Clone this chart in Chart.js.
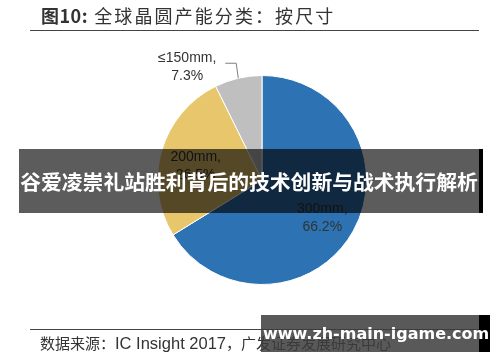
<!DOCTYPE html>
<html>
<head>
<meta charset="utf-8">
<script src="https://cdn.jsdelivr.net/npm/chart.js@4.4.1/dist/chart.umd.min.js"></script>
<style>
  html,body{margin:0;padding:0;background:#fff;}
  #wrap{position:relative;width:500px;height:362px;overflow:hidden;background:#fff;}
  #c{position:absolute;left:0;top:0;}
  .title{position:absolute;left:41px;top:2px;font-family:"Noto Sans CJK SC",sans-serif;font-size:18px;color:#333;letter-spacing:2.1px;white-space:nowrap;}
  .title b{font-weight:700;letter-spacing:0.5px;}
  .rule{position:absolute;left:30px;width:449px;height:1px;background:#444;}
  .src{position:absolute;left:40px;top:332px;font-family:"Noto Sans CJK SC",sans-serif;font-size:15px;color:#333;white-space:nowrap;}
  .src span{font-family:"Liberation Sans",Arial,sans-serif;font-size:16.5px;}
  .banner{position:absolute;left:19px;top:149px;width:460px;height:64px;background:rgba(0,0,0,0.64);}
  .banner-edge{position:absolute;left:479px;top:149px;width:4px;height:64px;background:#000;}
  .banner-text{position:absolute;left:19px;top:149px;width:460px;height:64px;line-height:64px;text-align:center;font-family:"Noto Sans CJK SC",sans-serif;font-weight:700;font-size:20.8px;color:#fff;white-space:nowrap;letter-spacing:0;}
  .wm{position:absolute;left:261px;top:315px;width:218px;height:37px;background:rgba(60,60,60,0.85);}
  .wm-edge{position:absolute;left:479px;top:315px;width:11px;height:37px;background:#000;}
  .wm-text{position:absolute;left:263px;top:315px;width:216px;height:37px;line-height:37px;text-align:center;font-family:"DejaVu Sans",sans-serif;font-weight:700;font-size:16px;color:#fff;white-space:nowrap;}
</style>
</head>
<body>
<div id="wrap">
  <canvas id="c" width="500" height="362"></canvas>
  <div class="title"><b>图10:</b> 全球晶圆产能分类：按尺寸</div>
  <div class="rule" style="top:30px"></div>
  <div class="rule" style="top:329px"></div>
  <div class="src">数据来源：<span>IC Insight 2017</span>，广发证券发展研究中心</div>
  <div class="banner"></div>
  <div class="banner-edge"></div>
  <div class="banner-text">谷爱凌崇礼站胜利背后的技术创新与战术执行解析</div>
  <div class="wm"></div>
  <div class="wm-edge"></div>
  <div class="wm-text">www.zh-main-igame.com</div>
</div>
<script>
const categories = ['300mm', '200mm', '≤150mm'];
const shares = [66.2, 26.5, 7.3];
const sliceColors = ['#2D72B3', '#E8C76C', '#BFBFBF'];

const labelPlugin = {
  id: 'sliceLabels',
  afterDatasetsDraw(chart) {
    const ctx = chart.ctx;
    const meta = chart.getDatasetMeta(0);
    ctx.save();
    ctx.font = '14px "Liberation Sans", Arial, sans-serif';
    ctx.fillStyle = '#333';
    ctx.textAlign = 'center';
    ctx.textBaseline = 'middle';
    meta.data.forEach((arc, i) => {
      const p = arc.getProps(['x','y','startAngle','endAngle','outerRadius'], true);
      const mid = (p.startAngle + p.endAngle) / 2;
      const dx = Math.cos(mid), dy = Math.sin(mid);
      const l1 = categories[i] + ',';
      const l2 = shares[i].toFixed(1) + '%';
      if (shares[i] > 15) {
        const r = p.outerRadius * 0.66;
        const cx = p.x + dx * r, cy = p.y + dy * r + 5;
        ctx.fillText(l1, cx, cy - 9);
        ctx.fillText(l2, cx, cy + 9);
      } else {
        const ex = p.x + dx * p.outerRadius, ey = p.y + dy * p.outerRadius;
        const bx = ex - 2, by = ey - 15;
        ctx.strokeStyle = '#7f7f7f';
        ctx.lineWidth = 1;
        ctx.beginPath();
        ctx.moveTo(ex, ey);
        ctx.lineTo(bx, by);
        ctx.lineTo(bx - 11, by);
        ctx.stroke();
        const tx = bx - 49;
        ctx.fillText(l1, tx, by - 5);
        ctx.fillText(l2, tx, by + 13);
      }
    });
    ctx.restore();
  }
};

new Chart(document.getElementById('c'), {
  type: 'pie',
  data: {
    labels: categories,
    datasets: [{
      data: shares,
      backgroundColor: sliceColors,
      borderColor: '#ffffff',
      borderWidth: 1
    }]
  },
  options: {
    responsive: false,
    animation: false,
    layout: { padding: { left: 157, right: 133, top: 75, bottom: 77 } },
    plugins: { legend: { display: false }, tooltip: { enabled: false } }
  },
  plugins: [labelPlugin]
});
</script>
</body>
</html>
